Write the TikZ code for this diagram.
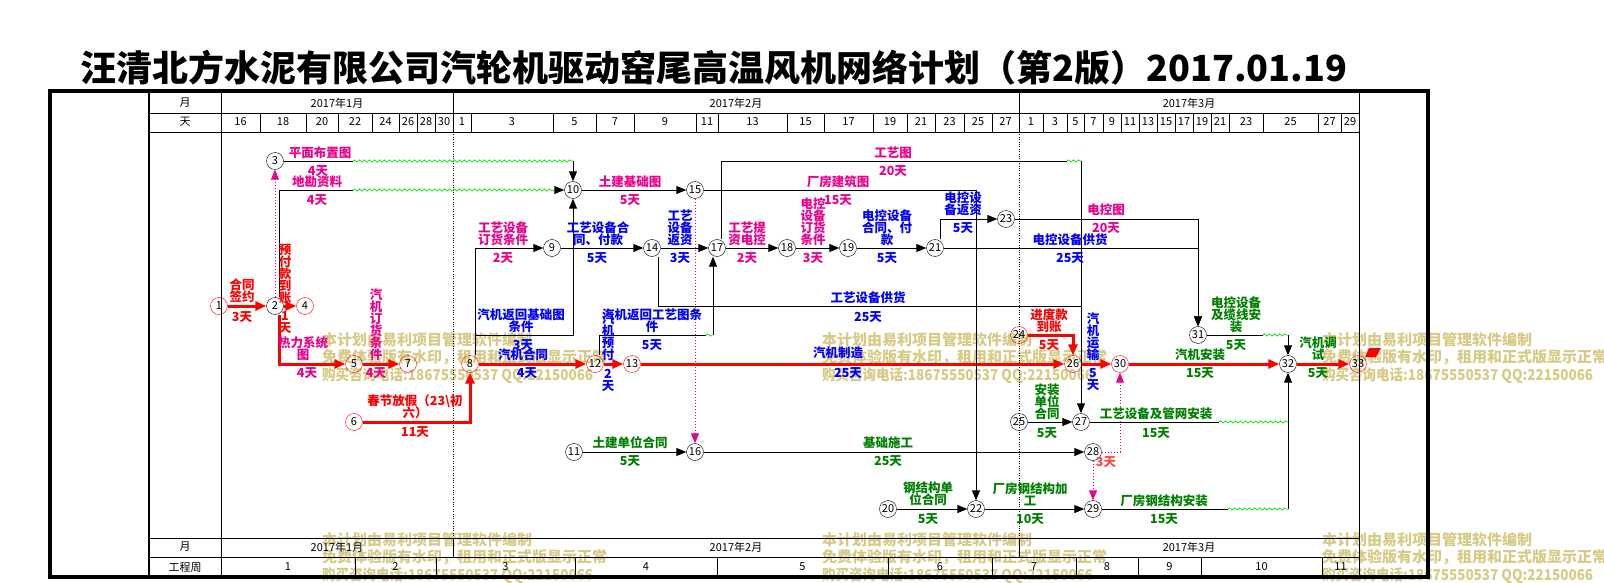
\documentclass[tikz,border=0pt]{standalone}
\usepackage{fontspec}
\setmainfont{Noto Sans CJK SC}
\usetikzlibrary{arrows.meta,decorations.pathmorphing}
\definecolor{wmark}{RGB}{214,202,132}
\definecolor{fltgreen}{RGB}{0,225,0}
\definecolor{lblgreen}{RGB}{0,128,0}
\definecolor{lightred}{RGB}{255,70,70}
\lineskiplimit=-20pt
\tikzset{
  ev/.style={circle,draw,minimum size=17pt,inner sep=0pt,font=\fontsize{11}{11}\selectfont},
  evr/.style={ev,draw=red},
  act/.style={line width=1pt,-{Triangle[length=10pt,width=8pt]}},
  crit/.style={line width=3pt,red,-{Triangle[length=11pt,width=9pt]}},
  dum/.style={line width=1pt,magenta,dotted,-{Triangle[length=10pt,width=8pt]}},
  flt/.style={draw=fltgreen,line width=.7pt,decorate,decoration={snake,amplitude=1.1pt,segment length=5pt}},
  lbl/.style={inner sep=0pt,align=center,font=\bfseries\fontsize{12.5}{12}\selectfont},
  mg/.style={lbl,text=magenta},
  bl/.style={lbl,text=blue},
  gr/.style={lbl,text=lblgreen},
  rd/.style={lbl,text=red},
  hd/.style={inner sep=0pt,font=\fontsize{11}{11}\selectfont},
  wm/.style={inner sep=0pt,anchor=west,align=left,text=wmark,font=\bfseries\fontsize{15}{17.5}\selectfont}
}
\begin{document}
\begin{tikzpicture}[x=1pt,y=-1pt]
  \useasboundingbox (0,0) rectangle (1604,583);
  % watermarks
  \foreach \x in {322,822,1322}
    \foreach \y in {358,558}
      \node[wm] (wm\x\y) at (\x,\y) {本计划由易利项目管理软件编制\\免费体验版有水印，租用和正式版显示正常\\\scalebox{0.9}[1]{购买咨询电话:18675550537 QQ:22150066}};
  \node[inner sep=0pt,font=\bfseries\fontsize{36}{40}\selectfont] (title) at (714,68)
    {汪清北方水泥有限公司汽轮机驱动窑尾高温风机网络计划（第2版）2017.01.19};
  % frame and time scale
  \draw[line width=4pt] (50,91) rectangle (1428,577);
  \draw[line width=2pt] (149,91) -- (149,577);
  \draw (221,91) -- (221,577) (1359,91) -- (1359,577);
  \foreach \y in {113,132,538,557}
    \draw (149,\y) -- (1359,\y);
  \foreach \x in {453,1019} {
    \draw (\x,91) -- (\x,113);
    \draw (\x,538) -- (\x,557);
    \draw[dotted] (\x,132) -- (\x,538);
  }
  \node[hd] (hm) at (185,103) {月};
  \node[hd] (hd) at (185,122) {天};
  \node[hd] (bm) at (185,547) {月};
  \node[hd] (bw) at (185,567) {工程周};
  \node[hd] (m1) at (337,103) {2017年1月};
  \node[hd] (m2) at (736,103) {2017年2月};
  \node[hd] (m3) at (1189,103) {2017年3月};
  \node[hd] (b1) at (337,547) {2017年1月};
  \node[hd] (b2) at (736,547) {2017年2月};
  \node[hd] (b3) at (1189,547) {2017年3月};
  \foreach \a/\b/\d in {221/260/16,260/306/18,306/338/20,338/372/22,372/399/24,399/417/26,
      417/435/28,435/453/30,453/471/1,471/553/3,553/596/5,596/634/7,634/696/9,696/718/11,
      718/787/13,787/824/15,824/873/17,873/907/19,907/935/21,935/964/23,964/992/25,
      992/1019/27,1019/1043/1,1043/1067/3,1067/1084/5,1084/1103/7,1103/1121/9,1121/1139/11,
      1139/1157/13,1157/1175/15,1175/1193/17,1193/1211/19,1211/1229/21,1229/1263/23,
      1263/1318/25,1318/1341/27,1341/1359/29} {
    \draw (\b,113) -- (\b,132);
    \node[hd] (d\a) at ({(\a+\b)/2},122) {\d};
  }
  \foreach \a/\b/\w in {221/355/1,355/436/2,436/575/3,575/717/4,717/888/5,888/992/6,
      992/1076/7,1076/1138/8,1138/1201/9,1201/1322/10,1322/1359/11} {
    \draw (\b,557) -- (\b,577);
    \node[hd] (w\a) at ({(\a+\b)/2},567) {\w};
  }
  % events
  \node[evr] (n1) at (219,306) {1};
  \node[ev]  (n2) at (275,306) {2};
  \node[ev]  (n3) at (275,161) {3};
  \node[evr] (n4) at (305,306) {4};
  \node[evr] (n5) at (354,364) {5};
  \node[evr] (n6) at (354,422) {6};
  \node[evr] (n7) at (408,364) {7};
  \node[evr] (n8) at (470,364) {8};
  \node[ev]  (n9) at (552,248) {9};
  \node[ev]  (n10) at (573,190) {10};
  \node[ev]  (n11) at (574,452) {11};
  \node[evr] (n12) at (595,364) {12};
  \node[evr] (n13) at (632,364) {13};
  \node[ev]  (n14) at (652,248) {14};
  \node[ev]  (n15) at (695,190) {15};
  \node[ev]  (n16) at (695,452) {16};
  \node[ev]  (n17) at (717,248) {17};
  \node[ev]  (n18) at (787,248) {18};
  \node[ev]  (n19) at (848,248) {19};
  \node[ev]  (n20) at (888,509) {20};
  \node[ev]  (n21) at (935,248) {21};
  \node[ev]  (n22) at (976,509) {22};
  \node[ev]  (n23) at (1006,219) {23};
  \node[evr] (n24) at (1019,335) {24};
  \node[ev]  (n25) at (1019,422) {25};
  \node[evr] (n26) at (1073,364) {26};
  \node[ev]  (n27) at (1081,422) {27};
  \node[ev]  (n28) at (1093,452) {28};
  \node[ev]  (n29) at (1093,509) {29};
  \node[evr] (n30) at (1120,364) {30};
  \node[ev]  (n31) at (1198,335) {31};
  \node[ev]  (n32) at (1288,364) {32};
  \node[evr] (n33) at (1358,364) {33};
  % bends and free floats
  \coordinate (f3a) at (353,161);   \coordinate (f3b) at (573,161);
  \coordinate (f2a) at (353,190);   \coordinate (f2b) at (556,190);
  \coordinate (k810) at (573,335);
  \coordinate (f12a) at (706,335);  \coordinate (f12b) at (713,335);
  \coordinate (f17a) at (1067,161); \coordinate (f17b) at (1081,161);
  \coordinate (k1427) at (1081,306);
  \coordinate (f27a) at (1219,422); \coordinate (f27b) at (1288,422);
  \coordinate (f29a) at (1228,509); \coordinate (f29b) at (1288,509);
  \coordinate (f31a) at (1263,335); \coordinate (f31b) at (1288,335);
  % critical path
  \draw[crit] (n1) -- (n2);
  \draw[crit] (n2) -- (n4);
  \draw[crit] ([xshift=4pt]n2.south) |- (n5);
  \draw[crit] (n5) -- (n7);
  \draw[crit] (n6) -| (n8);
  \draw[crit] (n8) -- (n12);
  \draw[crit] (n12) -- (n13);
  \draw[crit] (n13) -- (n26);
  \draw[crit] (n24) -| (n26);
  \draw[crit] (n26) -- (n30);
  \draw[crit] (n30) -- (n32);
  \draw[crit] (n32) -- (n33);
  \fill[red] (1365,357) -- (1369,348) -- (1381,348) -- (1376,357) -- cycle;
  % other activities
  \draw[dum] (n2) -- (n3);
  \draw (n3) -- (f3a);
  \draw[flt] (f3a) -- (f3b);
  \draw[act] (f3b) -- (n10);
  \draw ([xshift=4pt]n2.north) |- (f2a);
  \draw[flt] (f2a) -- (f2b);
  \draw[act] (f2b) -- (n10);
  \draw[act] ([xshift=5pt]n8.north) |- (n9);
  \draw[act] ([xshift=5pt]n8.north) |- (k810) -- (n10);
  \draw[act] (n9) -- (n14);
  \draw[act] (n10) -- (n15);
  \draw[act] (n11) -- (n16);
  \draw ([xshift=4pt]n12.north) |- (f12a);
  \draw[flt] (f12a) -- (f12b);
  \draw[act] (f12b) -- (f12b |- n17.south);
  \draw[act] (n14) -- (n17);
  \draw ([xshift=6pt]n14.south) |- (k1427);
  \draw ([xshift=4pt]n17.north) |- (f17a);
  \draw[flt] (f17a) -- (f17b);
  \draw[act] (f17b) -- (n27);
  \draw[dum] (n15) -- (n16);
  \draw[act] (n15) -| (n22);
  \draw[act] (n17) -- (n18);
  \draw[act] (n18) -- (n19);
  \draw[act] (n19) -- (n21);
  \draw[act] ([xshift=5pt]n21.north) |- (n23);
  \draw[act] (n21) -| (n31);
  \draw[act] (n23) -| (n31);
  \draw[act] (n20) -- (n22);
  \draw[act] (n22) -- (n29);
  \draw[act] (n16) -- (n28);
  \draw[act] (n25) -- (n27);
  \draw[dum] (n28) -| (n30);
  \draw[dum] (n28) -- (n29);
  \draw (n27) -- (f27a);
  \draw[flt] (f27a) -- (f27b);
  \draw (n29) -- (f29a);
  \draw[flt] (f29a) -- (f29b);
  \draw[act] (f29b) -- (n32);
  \draw (n31) -- (f31a);
  \draw[flt] (f31a) -- (f31b);
  \draw[act] (f31b) -- (n32);
  % activity names and durations
  \node[rd] (t12) at (242,291) {合同\\签约};
  \node[rd] (d12) at (242,317) {3天};
  \node[rd] (t24) at (285,274) {预\\付\\款\\到\\账};
  \node[rd] (d24) at (285,323) {1\\天};
  \node[mg] (t25) at (303,349) {热力系统\\图};
  \node[mg] (d25) at (307,373) {4天};
  \node[mg] (t57) at (376,325) {汽\\机\\订\\货\\条\\件};
  \node[mg] (d57) at (376,373) {4天};
  \node[mg] (t310) at (320,153) {平面布置图};
  \node[mg] (d310) at (318,171) {4天};
  \node[mg] (t210) at (317,182) {地勘资料};
  \node[mg] (d210) at (317,200) {4天};
  \node[rd] (t68) at (415,407) {春节放假（23\textbackslash 初\\六）};
  \node[rd] (d68) at (415,432) {11天};
  \node[mg] (t89) at (503,234) {工艺设备\\订货条件};
  \node[mg] (d89) at (503,258) {2天};
  \node[bl] (t810) at (521,321) {汽机返回基础图\\条件};
  \node[bl] (d810) at (523,345) {3天};
  \node[bl] (t812) at (523,355) {汽机合同};
  \node[bl] (d812) at (527,373) {4天};
  \node[bl] (t914) at (598,234) {工艺设备合\\同、付款};
  \node[bl] (d914) at (597,258) {5天};
  \node[mg] (t1015) at (630,182) {土建基础图};
  \node[mg] (d1015) at (630,200) {5天};
  \node[bl] (t1213) at (608,337) {汽\\机\\预\\付};
  \node[bl] (d1213) at (608,380) {2\\天};
  \node[bl] (t1217) at (652,321) {汽机返回工艺图条\\件};
  \node[bl] (d1217) at (652,345) {5天};
  \node[bl] (t1326) at (838,353) {汽机制造};
  \node[bl] (d1326) at (848,373) {25天};
  \node[bl] (t1417) at (680,228) {工艺\\设备\\返资};
  \node[bl] (d1417) at (680,258) {3天};
  \node[bl] (t1427) at (868,298) {工艺设备供货};
  \node[bl] (d1427) at (868,317) {25天};
  \node[mg] (t1522) at (838,182) {厂房建筑图};
  \node[mg] (d1522) at (838,200) {15天};
  \node[mg] (t1727) at (893,153) {工艺图};
  \node[mg] (d1727) at (893,171) {20天};
  \node[mg] (t1718) at (747,234) {工艺提\\资电控};
  \node[mg] (d1718) at (747,258) {2天};
  \node[mg] (t1819) at (813,222) {电控\\设备\\订货\\条件};
  \node[mg] (d1819) at (813,258) {3天};
  \node[bl] (t1921) at (887,228) {电控设备\\合同、付\\款};
  \node[bl] (d1921) at (887,258) {5天};
  \node[bl] (t2123) at (963,204) {电控设\\备返资};
  \node[bl] (d2123) at (963,228) {5天};
  \node[bl] (t2131) at (1070,240) {电控设备供货};
  \node[bl] (d2131) at (1070,258) {25天};
  \node[mg] (t2331) at (1106,210) {电控图};
  \node[mg] (d2331) at (1106,228) {20天};
  \node[rd] (t2426) at (1049,321) {进度款\\到账};
  \node[rd] (d2426) at (1049,345) {5天};
  \node[gr] (t2527) at (1047,402) {安装\\单位\\合同};
  \node[gr] (d2527) at (1047,433) {5天};
  \node[gr] (t1116) at (630,443) {土建单位合同};
  \node[gr] (d1116) at (630,461) {5天};
  \node[gr] (t1628) at (888,443) {基础施工};
  \node[gr] (d1628) at (888,461) {25天};
  \node[gr] (t2022) at (928,494) {钢结构单\\位合同};
  \node[gr] (d2022) at (928,519) {5天};
  \node[gr] (t2229) at (1030,494) {厂房钢结构加\\工};
  \node[gr] (d2229) at (1030,519) {10天};
  \node[bl] (t2630) at (1093,337) {汽\\机\\运\\输};
  \node[bl] (d2630) at (1093,380) {5\\天};
  \node[lbl,text=lightred] (d2829) at (1106,462) {3天};
  \node[gr] (t2732) at (1156,414) {工艺设备及管网安装};
  \node[gr] (d2732) at (1156,433) {15天};
  \node[gr] (t2932) at (1164,501) {厂房钢结构安装};
  \node[gr] (d2932) at (1164,519) {15天};
  \node[gr] (t3032) at (1200,355) {汽机安装};
  \node[gr] (d3032) at (1200,373) {15天};
  \node[gr] (t3132) at (1236,315) {电控设备\\及缆线安\\装};
  \node[gr] (d3132) at (1236,345) {5天};
  \node[gr] (t3233) at (1318,349) {汽机调\\试};
  \node[gr] (d3233) at (1318,373) {5天};
\end{tikzpicture}
\end{document}
